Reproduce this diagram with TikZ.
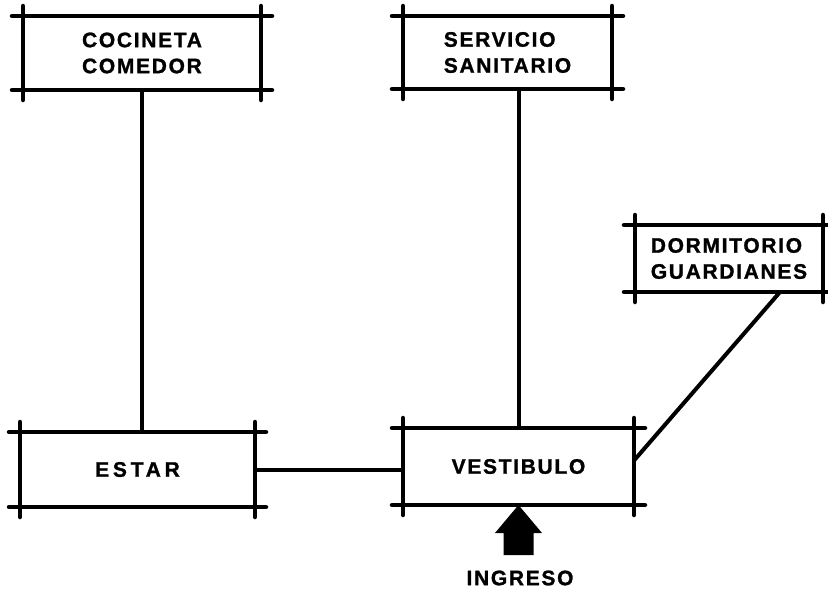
\documentclass[tikz,border=0pt]{standalone}
\usepackage{fontspec}
\newfontfamily\roomfont[LetterSpace=8, FakeBold=1.2]{Liberation Sans}
\usepackage{tikz}
\usetikzlibrary{calc}

\begin{document}
\begin{tikzpicture}[x=1pt, y=-1pt,
  roomtext/.style={font=\roomfont\bfseries\fontsize{21}{26}\selectfont, align=left},
  room/.style={roomtext, draw, line width=4.5pt, outer sep=0pt, inner sep=0pt},
  wall/.style={line width=4.5pt, line cap=round},
  link/.style={line width=4pt}
]
\useasboundingbox (0,0) rectangle (828,595);

% Rooms
\node[room, minimum width=238pt, minimum height=74pt] (cocina) at (142,53) {COCINETA\\COMEDOR};
\node[room, minimum width=209pt, minimum height=73pt] (servicio) at (507.5,52.5) {SERVICIO\\SANITARIO};
\node[room, minimum width=188pt, minimum height=67pt] (dormitorio) at (729,258.5) {DORMITORIO\\GUARDIANES};
\node[room, minimum width=235pt, minimum height=75pt] (estar) at (137.5,469.5) {\addfontfeature{LetterSpace=18}ESTAR};
\node[room, minimum width=231pt, minimum height=77pt] (vestibulo) at (518.5,466.5) {VESTIBULO};

% Crossed corners
\foreach \n in {cocina,servicio,dormitorio,estar,vestibulo} {
  \draw[wall] ([xshift=-11pt]\n.north west) -- ([xshift=11pt]\n.north east);
  \draw[wall] ([xshift=-11pt]\n.south west) -- ([xshift=11pt]\n.south east);
  \draw[wall] ([yshift=10pt]\n.north west) -- ([yshift=-10pt]\n.south west);
  \draw[wall] ([yshift=10pt]\n.north east) -- ([yshift=-10pt]\n.south east);
}

% Links
\draw[link] (cocina.south) -- (cocina.south |- estar.north);
\draw[link] (vestibulo.north |- servicio.south) -- (vestibulo.north);
\draw[link] (estar.east) -- (estar.east -| vestibulo.west);
\draw[link] ([xshift=51pt]dormitorio.south) -- ([yshift=6pt]vestibulo.east);

% Entrance
\fill (vestibulo.south) -- ++(-23.5,28) -- ++(8.5,0) -- ++(0,22) -- ++(30,0) -- ++(0,-22) -- ++(8.5,0) -- cycle;
\node[roomtext] (ingreso) at (520,578) {INGRESO};
\end{tikzpicture}
\end{document}
